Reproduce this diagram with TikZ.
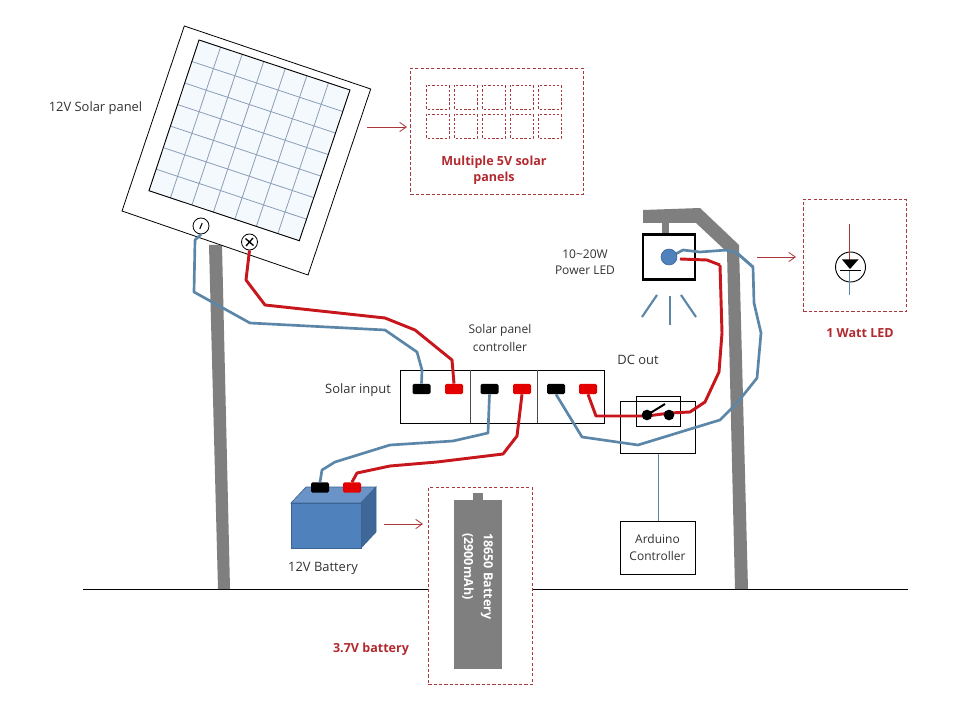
\documentclass[tikz,border=0pt]{standalone}
\usepackage{fontspec}
\setmainfont{Open Sans}
\usetikzlibrary{calc,arrows.meta}
\definecolor{wblue}{HTML}{5B86A8}
\definecolor{wred}{HTML}{C8161D}
\definecolor{dred}{HTML}{B22A30}
\definecolor{lred}{HTML}{A8383C}
\definecolor{pgrey}{HTML}{7F7F7F}
\definecolor{gridc}{HTML}{8C9DB8}
\definecolor{cellc}{HTML}{F4F9FD}
\definecolor{batf}{HTML}{4F81BD}
\definecolor{batt}{HTML}{6A93C8}
\definecolor{bats}{HTML}{3F6797}
\definecolor{batl}{HTML}{3A6494}
\tikzset{
  lbl/.style={font=\fontsize{9.7pt}{11.5pt}\selectfont,text=black!80,inner sep=0pt,align=center},
  redlbl/.style={font=\fontsize{9.4pt}{12pt}\selectfont\bfseries,text=dred,inner sep=0pt,align=center},
  wireb/.style={draw=wblue,line width=2pt,line join=round},
  wirer/.style={draw=wred,line width=2.2pt,line join=round},
  dbox/.style={draw=lred,dash pattern=on 2.4pt off 1.6pt,line width=0.55pt,fill=white},
  dcell/.style={draw=lred,dash pattern=on 1.8pt off 1.4pt,line width=0.4pt},
  redarrow/.style={draw=lred,line width=0.6pt,-{Straight Barb[length=5pt,width=7pt,line width=0.6pt]}},
  termk/.style={fill=black,rounded corners=1pt,inner sep=0pt,minimum width=13.5pt,minimum height=7.6pt},
  termr/.style={fill=red!90!black,rounded corners=1pt,inner sep=0pt,minimum width=13.5pt,minimum height=7.6pt},
  thinbox/.style={draw=black,line width=0.5pt},
  pole/.style={fill=pgrey},
  ray/.style={draw=wblue,line width=1.6pt},
  swdot/.style={circle,fill=black,inner sep=0pt,minimum size=8pt},
  pin/.style={circle,draw=black,fill=white,line width=0.6pt,inner sep=0pt,minimum size=12pt},
  celltext/.style={rotate=-90,anchor=west,font=\fontsize{9.4pt}{10pt}\selectfont\bfseries,text=white,inner sep=0pt},
}
\begin{document}
\begin{tikzpicture}[x=0.75pt,y=-0.75pt]
\useasboundingbox (0,0) rectangle (960,720);
\fill[white] (0,0) rectangle (960,720);
% ground
\draw[black,line width=0.75pt] (83,589) -- (908,589);
% poles
\fill[pole] (209,245) -- (222,245) -- (230,589) -- (218,589) -- cycle;
\fill[pole] (643,210) -- (700,208) -- (739,245) -- (748,589) -- (735,589) -- (727,252) -- (696,223) -- (643,223) -- cycle;
\fill[pole] (662,223) rectangle (669,234);
% solar panel
\draw[black,line width=0.6pt,fill=white] (184.3,26) -- (370.7,89) -- (308,275) -- (122,211) -- cycle;
\fill[cellc] (199,40) -- (350,90) -- (299.3,240.7) -- (149,190.7) -- cycle;
\foreach \i in {1,...,6}{
  \draw[gridc,line width=0.6pt] ($(199,40)!\i/7!(350,90)$) -- ($(149,190.7)!\i/7!(299.3,240.7)$);
  \draw[gridc,line width=0.6pt] ($(199,40)!\i/7!(149,190.7)$) -- ($(350,90)!\i/7!(299.3,240.7)$);
}
\draw[black,line width=0.7pt] (199,40) -- (350,90) -- (299.3,240.7) -- (149,190.7) -- cycle;
\node[pin] (pminus) at (201,226) {};
\draw[black,line width=0.8pt] (199.8,229) -- (202.2,223);
\node[pin] (pplus) at (249.5,242) {};
\draw[black,line width=1pt] (245.5,238.5) -- (253.5,245.5) (253,238) -- (246,246);
% controller
\node[thinbox,minimum width=153pt,minimum height=39.75pt,inner sep=0pt,anchor=north west] (ctrl) at (400,370) {};
\draw[black!70,line width=0.5pt] (470.5,370) -- (470.5,423) (537,370) -- (537,423);
\node[termk] (k1) at (421.5,389) {};
\node[termr] (r1) at (454,389) {};
\node[termk] (k2) at (489.5,389) {};
\node[termr] (r2) at (522,389) {};
\node[termk] (k3) at (556,389) {};
\node[termr] (r3) at (588,389) {};
% switch
\node[thinbox,minimum width=56.25pt,minimum height=39pt,inner sep=0pt,anchor=north west] (swbox) at (620,401) {};
\node[thinbox,minimum width=33pt,minimum height=22.5pt,inner sep=0pt,anchor=north west] (swin) at (636,396) {};
% battery
\draw[draw=batl,fill=batt,line width=0.5pt] (291,503) -- (306,487) -- (376,487) -- (361,503) -- cycle;
\draw[draw=batl,fill=bats,line width=0.5pt] (361,503) -- (376,487) -- (376,532) -- (361,548) -- cycle;
\node[draw=batl,fill=batf,line width=0.9pt,inner sep=0pt,minimum width=52.5pt,minimum height=33.75pt,anchor=north west] (bat) at (291,503) {};
\node[termk] (bk) at (320,487.5) {};
\node[termr] (br) at (352,487.5) {};
% wires
\draw[wireb] (pminus.south) -- (195,240) -- (194,292) -- (250,323) -- (385,330) -- (417,352) -- (422,370) -- (k1.north);
\draw[wirer] (pplus.south) -- (246,280) -- (265,305) -- (385,318) -- (415,330) -- (452,360) -- (r1.north);
\draw[wireb] (k2.south) -- (488,433) -- (453,441) -- (390,445) -- (335,462) -- (322,470) -- (bk.north);
\draw[wirer] (r2.south) -- (517,436) -- (503,454) -- (437,462) -- (390,466) -- (357,473) -- (br.north);
\draw[wireb] (k3.south) -- (582,437) -- (638,445) -- (710,423) -- (720,420) -- (737,403) -- (757,378) -- (761,333) -- (754,303) -- (753,267) -- (737,253);
\draw[wirer] (r3.south) -- (596,416) -- (647,416) -- (670,413) -- (690,412) -- (705,402) -- (719,372) -- (722,333) -- (720,265);
% switch parts
\node[swdot] (d1) at (647,415) {};
\node[swdot] (d2) at (669,415) {};
\draw[black,line width=1.5pt] (d1.center) -- (665,404);
% arduino
\node[thinbox,minimum width=56.25pt,minimum height=39.75pt,inner sep=0pt,align=center,font=\fontsize{9pt}{13pt}\selectfont,text=black!80] (ard) at (657.5,547.5) {Arduino\\Controller};
\draw[wblue,line width=0.5pt] (658,453.5) -- (ard.north -| 658,453.5);
% lamp
\node[draw=black,line width=2pt,fill=white,minimum width=39pt,minimum height=33.5pt,inner sep=0pt] (lamp) at (669,257) {};
\draw[wireb] (753,267) -- (737,253) -- (727,250) -- (700,252) -- (683,250) -- (670,257);
\draw[wirer] (720,265) -- (707,260) -- (680,259);
\node[circle,fill=batf,draw=batl,line width=0.4pt,minimum size=12pt,inner sep=0pt] (led) at (669,257) {};
\draw[ray] (657,295) -- (642,317);
\draw[ray] (670,296) -- (670,325);
\draw[ray] (681,295) -- (696,317);
% dashed boxes
\node[dbox,minimum width=129.75pt,minimum height=94.5pt,anchor=north west,inner sep=0pt] (mbox) at (410,68) {};
\foreach \x in {426,454,482,510,538}{
  \foreach \y in {85,114}{
    \draw[dcell] (\x,\y) rectangle ++(23,24);
  }
}
\node[redlbl] (mtxt) at (494,170) {Multiple 5V solar\\panels};
\node[dbox,minimum width=77pt,minimum height=84pt,anchor=north west,inner sep=0pt] (lbox) at (803,199) {};
\node[dbox,minimum width=78pt,minimum height=147.75pt,anchor=north west,inner sep=0pt] (bbox) at (428,487) {};
% arrows
\coordinate (a1) at (367,127); \coordinate (a2) at (407,127);
\draw[redarrow] (a1) -- (a2);
\coordinate (a3) at (757,257); \coordinate (a4) at (796,257);
\draw[redarrow] (a3) -- (a4);
\coordinate (a5) at (384,524); \coordinate (a6) at (423,524);
\draw[redarrow] (a5) -- (a6);
% LED symbol
\node[circle,draw=black,line width=0.7pt,minimum size=22.5pt,inner sep=0pt] (ledc) at (850.5,267) {};
\draw[lred,line width=0.55pt] (849.5,224) -- (849.5,262);
\draw[wblue,line width=0.55pt] (849.5,270) -- (849.5,295);
\fill[black] (842,259.5) -- (858.5,259.5) -- (850,269) -- cycle;
\draw[black,line width=1.4pt] (839.5,270.5) -- (861,270.5);
% big cell
\fill[pole] (473,493) rectangle (483,500);
\fill[pole] (454,500) rectangle (502,669);
\node[celltext] (c1) at (487,533) {18650 Battery};
\node[celltext] (c2) at (468,533) {(2900mAh)};
% labels
\node[lbl] (t1) at (95.5,108) {12V Solar panel};
\node[lbl,font=\fontsize{9pt}{12pt}\selectfont] (t2) at (585,262) {10\textasciitilde20W\\Power LED};
\node[lbl,font=\fontsize{9pt}{13pt}\selectfont] (t3) at (500,338) {Solar panel\\controller};
\node[lbl] (t4) at (358,390) {Solar input};
\node[lbl] (t5) at (638,360) {DC out};
\node[lbl] (t6) at (323,568) {12V Battery};
\node[redlbl] (t7) at (371,649) {3.7V battery};
\node[redlbl] (t8) at (860,333) {1 Watt LED};
\end{tikzpicture}
\end{document}
